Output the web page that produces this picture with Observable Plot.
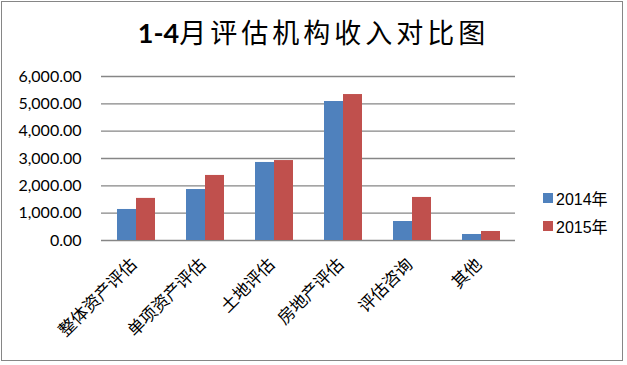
<!DOCTYPE html>
<html>
<head>
<meta charset="utf-8">
<script src="https://cdn.jsdelivr.net/npm/d3@7"></script>
<script src="https://cdn.jsdelivr.net/npm/@observablehq/plot@0.6"></script>
<style>
  html, body { margin: 0; padding: 0; background: #fff; }
  #wrap { position: relative; width: 627px; height: 365px; overflow: hidden; }
  #box { position: absolute; left: 1px; top: 1px; width: 622px; height: 360px; border: 1.5px solid #868686; box-sizing: border-box; }
  #title { position: absolute; left: 0; width: 627px; top: 12px; text-align: center; font-family: "Noto Sans CJK SC", sans-serif; font-size: 27px; letter-spacing: 4px; color: #000; }
  #title b { font-family: "Lato", "Noto Sans CJK SC", sans-serif; font-weight: 700; letter-spacing: 0; }
  #chart { position: absolute; left: 0; top: 60px; }
  #legend { position: absolute; left: 543px; top: 184px; font-family: "Liberation Sans", "Noto Sans CJK SC", sans-serif; font-size: 16px; color: #000; }
  #legend .item { display: flex; align-items: center; height: 28px; }
  #legend .sw { width: 10px; height: 10px; margin-right: 3px; }
</style>
</head>
<body>
<div id="wrap">
  <div id="box"></div>
  <div id="title"><b>1-4</b>月评估机构收入对比图</div>
  <div id="chart"></div>
  <div id="legend"></div>
</div>
<script>
const categories = ["整体资产评估", "单项资产评估", "土地评估", "房地产评估", "评估咨询", "其他"];
const years = ["2014年", "2015年"];
const values2014 = [1135, 1865, 2855, 5085, 695, 220];
const values2015 = [1540, 2380, 2925, 5340, 1575, 330];
const yTicks = [0, 1000, 2000, 3000, 4000, 5000, 6000];
const colors = ["#4f81bd", "#c0504d"];

const data = categories.flatMap((c, i) => [
  {category: c, year: years[0], value: values2014[i]},
  {category: c, year: years[1], value: values2015[i]}
]);

const chart = Plot.plot({
  width: 627,
  height: 300,
  marginLeft: 100,
  marginRight: 111,
  marginTop: 16,
  marginBottom: 120,
  style: {fontFamily: "Lato, sans-serif", fontSize: "15px", color: "#000", background: "transparent"},
  fx: {domain: categories, padding: 0, label: null, axis: null},
  x: {domain: years, paddingInner: 0, paddingOuter: 0.73, axis: null},
  y: {domain: [0, 6000], ticks: yTicks, label: null},
  color: {domain: years, range: colors},
  marks: [
    Plot.ruleY(yTicks, {stroke: "#868686", strokeWidth: 1.3, strokeOpacity: 1}),
    Plot.barY(data, {fx: "category", x: "year", y: "value", fill: "year", inset: 0}),
    Plot.ruleX([0], {frameAnchor: "left", y1: 0, y2: 6000, stroke: "#868686", strokeWidth: 1.3, facetAnchor: "left"}),
    Plot.axisY(yTicks, {tickSize: 0, tickPadding: 20, tickFormat: d3.format(",.2f"), fontSize: 16, fontFamily: "Lato, sans-serif", label: null}),
    Plot.axisFx({anchor: "bottom", tickRotate: -45, tickSize: 0, tickPadding: 21, dx: -2, fontSize: 17, fontFamily: "'Noto Sans CJK SC', sans-serif", label: null})
  ]
});
document.getElementById("chart").appendChild(chart);

const legend = document.getElementById("legend");
years.forEach((y, i) => {
  const item = document.createElement("div");
  item.className = "item";
  item.innerHTML = `<span class="sw" style="background:${colors[i]}"></span><span>${y}</span>`;
  legend.appendChild(item);
});
</script>
</body>
</html>
